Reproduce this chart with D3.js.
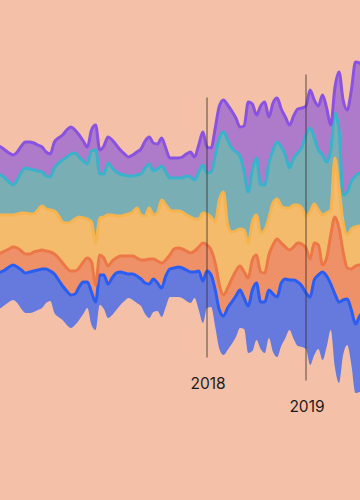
<!DOCTYPE html>
<html>
<head>
<meta charset="utf-8">
<script src="https://cdn.jsdelivr.net/npm/d3@7"></script>
<style>
html,body{margin:0;padding:0;background:#f5c0a8;}
svg{display:block;}
</style>
</head>
<body>
<svg id="chart" width="360" height="500"></svg>
<script>
// Semi-monthly periods starting mid-Nov 2015 (fractional years)
const startYear = 2015.875;
const stepYear = 1 / 24;

const blue = [
  37,36,35,35,35,36,39,40,41,41,
  40,39,34,30,39,37,34,34,33,31,
  33,32,26,33,28,30,34,34,37,37,
  33,28,24,26,27,27,31,34,33,28,
  29,31,28,29,30,30,31,31,26,39,
  42,37,32,37,39,39,42,42,41,38,
  31,47,61,57,47,51,48,58,60,63,
  59,50,59,64,61,56,68,75,74,88,
  71,46,73,81,55,46,55,69,76,73
];
const orange = [
  18,19,19,18,18,19,19,19,18,19,
  19,19,18,19,20,22,23,23,24,23,
  19,20,24,30,17,20,17,18,17,15,
  16,17,18,18,18,19,23,25,20,22,
  25,16,14,19,19,19,19,19,21,24,
  38,26,25,27,25,21,20,23,25,24,
  26,28,30,28,30,29,35,49,58,40,
  32,30,33,39,42,45,38,37,30,7,
  18,49,77,74,48,31,41,58,51,47
];
const yellow = [
  39,38,36,34,32,34,38,41,40,38,
  41,44,42,42,43,42,41,45,49,52,
  51,44,39,40,42,37,41,51,46,42,
  40,41,42,44,50,45,44,51,44,48,
  63,55,45,38,37,37,36,36,32,28,
  30,31,33,41,85,103,63,47,40,37,
  42,35,38,40,39,43,37,42,40,37,
  39,42,42,38,36,32,47,39,35,50,
  45,25,59,40,30,33,40,39,39,39
];
const teal = [
  42,40,37,33,30,34,41,45,45,44,
  39,34,33,33,43,53,62,66,68,66,
  60,57,55,71,93,44,43,52,47,44,
  42,40,38,36,33,41,48,44,44,44,
  34,33,32,33,33,34,39,40,39,47,
  48,41,45,67,62,60,85,84,79,73,
  58,51,52,57,48,45,55,53,57,59,
  53,40,47,52,61,81,84,66,60,60,
  51,60,45,58,27,43,48,51,53,54
];
const purple = [
  27,28,28,29,30,28,26,26,27,27,
  26,25,24,23,26,25,25,27,27,23,
  22,20,17,21,25,24,28,26,28,27,
  24,21,19,21,23,25,27,27,28,25,
  28,24,20,20,20,21,22,25,23,27,
  33,26,24,27,32,32,35,37,34,29,
  46,90,66,43,79,83,46,47,44,38,
  38,43,42,44,39,29,38,38,44,60,
  54,25,25,58,95,82,91,114,110,102
];

const seriesKeys = ["blue", "orange", "yellow", "teal", "purple"];
const fillColors = ["#6679dc", "#ef9168", "#f5bb6c", "#7aaeb5", "#ad7bc9"];
const lineColors = ["#2a5df2", "#ec7848", "#f6b450", "#3ab2cc", "#8a52e0"];

const markYears = [2018, 2019];
const markLabels = ["2018", "2019"];
const markReach = [130, 153];

const periods = blue.map((_, i) => startYear + i * stepYear);
const seriesMap = {blue, orange, yellow, teal, purple};
const rows = periods.map((p, i) => {
  const r = {period: p};
  seriesKeys.forEach(k => { r[k] = seriesMap[k][i]; });
  return r;
});

const svg = d3.select("#chart");
const W = 360, H = 500;
svg.append("rect").attr("width", W).attr("height", H).attr("fill", "#f5c0a8");

const x = d3.scaleLinear().domain([2018, 2019]).range([207, 306]);
const y = d3.scaleLinear().domain([-200, 200]).range([427.5, 27.5]);

const layers = d3.stack().keys(seriesKeys).offset(d3.stackOffsetSilhouette)(rows);

const area = d3.area()
  .x(d => x(d.data.period))
  .y0(d => y(d[0]))
  .y1(d => y(d[1]))
  .curve(d3.curveMonotoneX);
const topLine = d3.line()
  .x(d => x(d.data.period))
  .y(d => y(d[1]))
  .curve(d3.curveMonotoneX);

const g = svg.append("g");
g.selectAll("path.area").data(layers).join("path")
  .attr("class", "area")
  .attr("d", area)
  .attr("fill", (d, i) => fillColors[i]);

g.selectAll("path.edge").data(layers).join("path")
  .attr("class", "edge")
  .attr("d", topLine)
  .attr("fill", "none")
  .attr("stroke", (d, i) => lineColors[i])
  .attr("stroke-width", 3)
  .attr("stroke-linejoin", "round")
  .attr("stroke-linecap", "round");

const marks = svg.append("g");
markYears.forEach((yr, i) => {
  marks.append("line")
    .attr("x1", x(yr)).attr("x2", x(yr))
    .attr("y1", y(markReach[i])).attr("y2", y(-markReach[i]))
    .attr("stroke", "#3d3430")
    .attr("stroke-opacity", 0.85)
    .attr("stroke-width", 1);
  marks.append("text")
    .attr("x", x(yr) + 1)
    .attr("y", y(-markReach[i]) + 31)
    .attr("text-anchor", "middle")
    .attr("font-family", "Inter, 'Noto Sans', sans-serif")
    .attr("font-size", 15.5)
    .attr("fill", "#1c1c1c")
    .text(markLabels[i]);
});
</script>
</body>
</html>
